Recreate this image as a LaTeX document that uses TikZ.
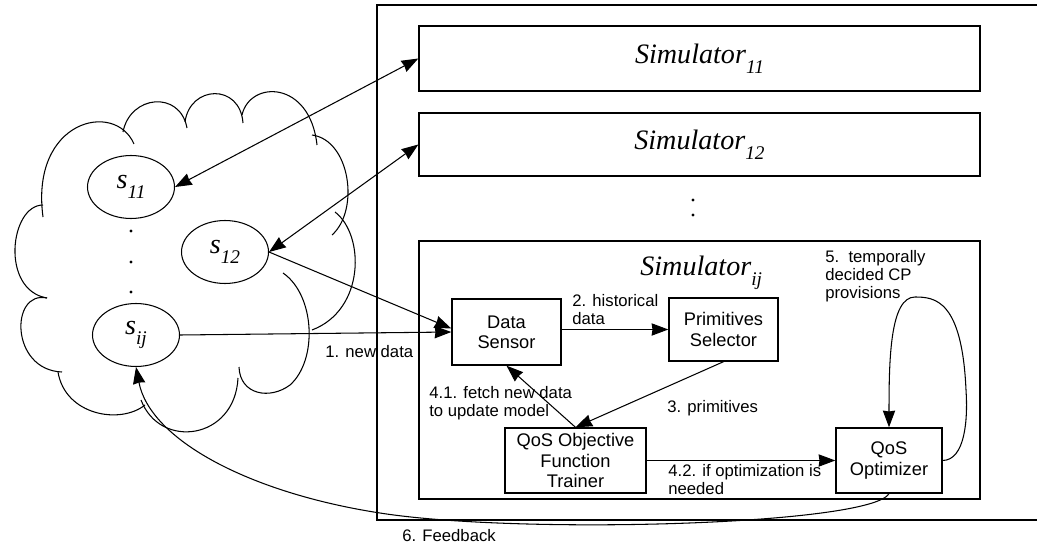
\documentclass[tikz,border=0pt]{standalone}
\usepackage{fontspec}
\setmainfont{Liberation Serif}
\setsansfont{Liberation Sans}
\usepackage{tikz}
\usetikzlibrary{arrows.meta}
\usetikzlibrary{calc,positioning,shapes}

\newcommand{\sublbl}[2]{\textit{#1}\raisebox{-0.8ex}{\fontsize{11}{11}\selectfont\textit{#2}}}

\begin{document}
\begin{tikzpicture}[>={Stealth[length=9.5pt,width=7pt,inset=0.5pt]}, x=0.02cm, y=-0.02cm,
    box/.style={draw, thick, align=center, inner sep=0pt, font=\sffamily\fontsize{10.4}{11.5}\selectfont},
    simbox/.style={draw, thick, minimum width=11.22cm, font=\fontsize{16}{19}\selectfont},
    sat/.style={ellipse, draw, semithick, minimum width=1.74cm, minimum height=1.26cm, inner sep=0pt, font=\fontsize{16}{19}\selectfont},
    lbl/.style={anchor=north west, align=left, inner sep=0pt, font=\sffamily\fontsize{9.5}{10.3}\selectfont},
    conn/.style={semithick}]
    \useasboundingbox (0,0) rectangle (1037,547);

    % simulator side
    \draw[thick] (1037,5) -- (377,5) -- (377,520) -- (1037,520);
    \node[simbox, minimum height=1.3cm] (sim11) at (699.5,58.5) {\sublbl{Simulator}{11}};
    \node[simbox, minimum height=1.26cm] (sim12) at (699.5,144.5) {\sublbl{Simulator}{12}};
    \fill (693,200) circle (0.9pt) (693,215) circle (0.9pt);
    \node[simbox, minimum height=5.16cm] (simij) at (699.5,370) {};
    \node[anchor=base west, inner sep=0pt, font=\fontsize{16}{19}\selectfont] (simijlbl) at (640,275) {\sublbl{Simulator}{ij}};

    \node[box, minimum width=2.18cm, minimum height=1.32cm] (sensor) at (506.5,332) {Data\\Sensor};
    \node[box, minimum width=2.18cm, minimum height=1.26cm] (selector) at (723.5,329.5) {Primitives\\Selector};
    \node[box, minimum width=2.82cm, minimum height=1.3cm] (trainer) at (575.5,460.5) {QoS Objective\\Function\\Trainer};
    \node[box, minimum width=2.12cm, minimum height=1.3cm] (optimizer) at (889,460.5) {QoS\\Optimizer};

    % cloud of services
    \draw[semithick] (43,217) .. controls (30,120) and (115,100) .. (134,144);
    \draw[semithick] (123,132) .. controls (130,95) and (180,90) .. (187,128);
    \draw[semithick] (185,122) .. controls (190,85) and (240,83) .. (243,123);
    \draw[semithick] (242,115) .. controls (250,80) and (310,80) .. (317,145);
    \draw[semithick] (312,135) .. controls (350,140) and (360,210) .. (332,235);
    \draw[semithick] (335,212) .. controls (365,235) and (365,310) .. (312,330);
    \draw[semithick] (283,273) .. controls (315,295) and (318,360) .. (290,385) .. controls (270,400) and (240,395) .. (239,367);
    \draw[semithick] (238,378) .. controls (235,440) and (160,450) .. (141,400);
    \draw[semithick] (145,405) .. controls (120,425) and (65,415) .. (58,372);
    \draw[semithick] (47,298) .. controls (10,290) and (10,370) .. (62,372);
    \draw[semithick] (43,205) .. controls (10,205) and (0,290) .. (47,298);

    \node[sat] (s11) at (131,187) {\sublbl{s}{11}};
    \node[sat] (s12) at (225,252) {\sublbl{s}{12}};
    \node[sat] (sij) at (136,335) {\sublbl{s}{ij}};
    \fill (131,231) circle (0.9pt) (131,262) circle (0.9pt) (131,292) circle (0.9pt);

    % connectors
    \draw[<->, conn] (s11.east) -- (sim11.west);
    \draw[<->, conn] (s12.east) -- (sim12.west);
    \draw[->, conn] (s12.east) -- ([yshift=2pt]sensor.west);
    \draw[->, conn] (sij.east) -- (sensor.west);
    \draw[->, conn] (sensor.east |- selector.west) -- (selector.west);
    \draw[->, conn] (selector.south) -- (trainer.north);
    \draw[->, conn] (trainer.north) -- (sensor.south);
    \draw[->, conn] (trainer.east) -- (optimizer.west);
    \draw[->, conn] (optimizer.east) .. controls (965,460) and (968,420) .. (966,390)
        .. controls (962,300) and (935,297) .. (915,297)
        .. controls (890,297) and (889,360) .. (optimizer.north);
    \draw[->, conn] (optimizer.south) .. controls (870,525) and (520,535) .. (380,513)
        .. controls (250,493) and (150,440) .. (sij.south);

    \node[lbl] (l1) at (325,345) {1. new data};
    \node[lbl] (l2) at (572,294) {2. historical\\data};
    \node[lbl] (l3) at (667,400) {3. primitives};
    \node[lbl] (l41) at (429,386) {4.1. fetch new data\\to update model};
    \node[lbl] (l42) at (668,464) {4.2. if optimization is\\needed};
    \node[lbl] (l5) at (825,250) {5.\ \ temporally\\decided CP\\provisions};
    \node[lbl] (l6) at (402,529) {6. Feedback};
\end{tikzpicture}
\end{document}
